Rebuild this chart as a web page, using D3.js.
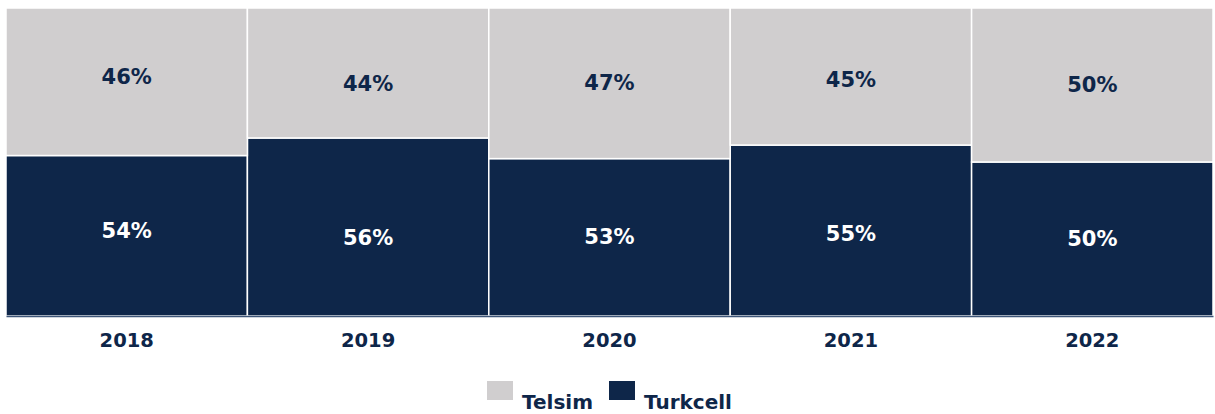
<!DOCTYPE html>
<html>
<head>
<meta charset="utf-8">
<script src="https://cdn.jsdelivr.net/npm/d3@7"></script>
<style>
  body { margin: 0; background: #fff; }
  text { font-family: "DejaVu Sans", Verdana, sans-serif; font-weight: bold; }
</style>
</head>
<body>
<svg id="chart" width="1215" height="414"></svg>
<script>
var years = ["2018", "2019", "2020", "2021", "2022"]
// bar shares as drawn (percent of the column)
var turkcell = [52.1, 57.8, 51.1, 55.5, 50.0]
var telsim = [47.9, 42.2, 48.9, 44.5, 50.0]
// printed labels
var turkcellLabels = ["54%", "56%", "53%", "55%", "50%"]
var telsimLabels = ["46%", "44%", "47%", "45%", "50%"]
// split the labels are centred on (the source places them off the bar split)
var labelSplit = [55.6, 51.3, 51.6, 53.6, 50.6]
var seriesNames = ["Telsim", "Turkcell"]

var grey = "#d0cecf", navy = "#0e2649"

var svg = d3.select("#chart")
var plotLeft = 6, plotRight = 1213, plotTop = 8, plotBottom = 316

var x = d3.scaleBand().domain(years).range([plotLeft, plotRight]).padding(0)
var y = d3.scaleLinear().domain([0, 100]).range([plotBottom, plotTop])

var rows = years.map(function (yr, i) {
  return { year: yr, Turkcell: turkcell[i], Telsim: telsim[i], i: i }
})
var stack = d3.stack().keys(["Turkcell", "Telsim"])(rows)
var colors = { Turkcell: navy, Telsim: grey }
var labels = { Turkcell: turkcellLabels, Telsim: telsimLabels }
var labelColors = { Turkcell: "#ffffff", Telsim: navy }

var layers = svg.selectAll("g.layer").data(stack).enter().append("g")
  .attr("class", "layer")
  .attr("fill", function (d) { return colors[d.key] })

layers.selectAll("rect").data(function (d) { return d }).enter().append("rect")
  .attr("x", function (d) { return x(d.data.year) })
  .attr("width", x.bandwidth())
  .attr("y", function (d) { return y(d[1]) })
  .attr("height", function (d) { return y(d[0]) - y(d[1]) })
  .attr("stroke", "#ffffff")
  .attr("stroke-width", 1.5)

function labelY(key, i) {
  var s = labelSplit[i]
  return key == "Turkcell" ? (y(0) + y(s)) / 2 : (y(s) + y(100)) / 2
}

layers.each(function (layer) {
  d3.select(this).selectAll("text").data(layer).enter().append("text")
    .attr("x", function (d) { return x(d.data.year) + x.bandwidth() / 2 })
    .attr("y", function (d) { return labelY(layer.key, d.data.i) })
    .attr("dy", "0.36em")
    .attr("text-anchor", "middle")
    .attr("font-size", 21)
    .attr("fill", labelColors[layer.key])
    .text(function (d) { return labels[layer.key][d.data.i] })
})

// x axis
var axis = svg.append("g").attr("transform", "translate(0," + plotBottom + ")")
  .call(d3.axisBottom(x).tickSize(0).tickPadding(17))
axis.select(".domain").attr("stroke", "#3d5578").attr("stroke-width", 1.5)
axis.selectAll("text")
  .attr("font-size", 19.5)
  .attr("font-family", "DejaVu Sans, Verdana, sans-serif")
  .attr("font-weight", "bold")
  .attr("fill", navy)

// legend
var legend = svg.append("g")
var legendX = [487, 609]
seriesNames.forEach(function (name, i) {
  legend.append("rect")
    .attr("x", legendX[i]).attr("y", 381)
    .attr("width", 26).attr("height", 19)
    .attr("fill", colors[name])
  legend.append("text")
    .attr("x", legendX[i] + 35).attr("y", 409)
    .attr("font-size", 20)
    .attr("fill", navy)
    .text(name)
})
</script>
</body>
</html>
